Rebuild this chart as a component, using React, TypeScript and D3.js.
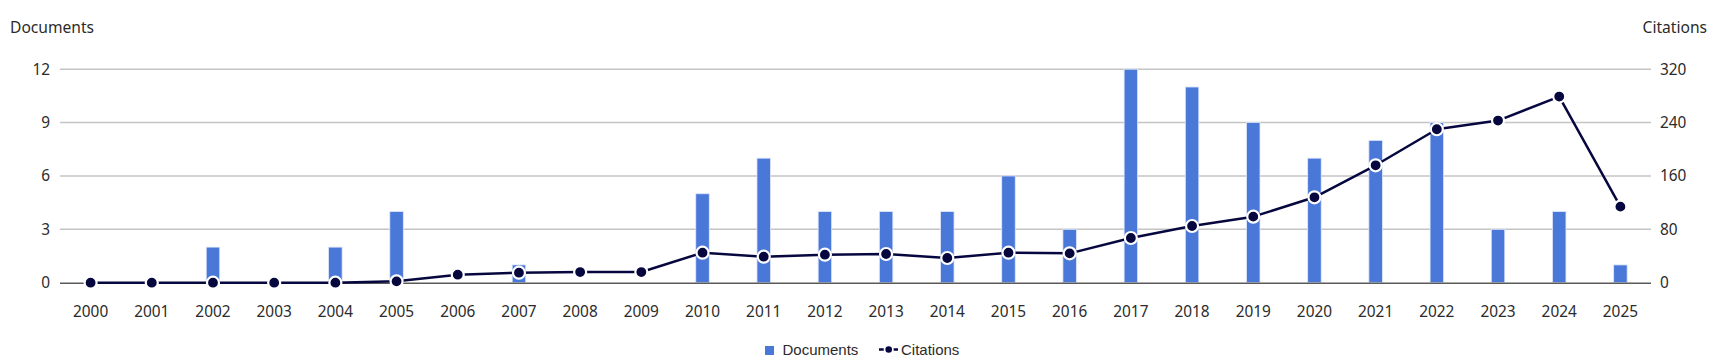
import React from "react";
import * as d3 from "d3";

const years = [
  "2000", "2001", "2002", "2003", "2004", "2005", "2006", "2007", "2008",
  "2009", "2010", "2011", "2012", "2013", "2014", "2015", "2016", "2017",
  "2018", "2019", "2020", "2021", "2022", "2023", "2024", "2025",
];
const documents = [0, 0, 2, 0, 2, 4, 0, 1, 0, 0, 5, 7, 4, 4, 4, 6, 3, 12, 11, 9, 7, 8, 9, 3, 4, 1];
const citations = [0, 0, 0, 0, 0, 2, 12, 15, 16, 16, 45, 39, 42, 43, 37, 45, 44, 67, 85, 99, 128, 176, 230, 243, 279, 114];
const docTicks = [0, 3, 6, 9, 12];
const citeTicks = [0, 80, 160, 240, 320];

const W = 1716;
const H = 360;
const BAR = "#4a78d9";
const LINE = "#07073f";
const TEXT = "#2b2b2b";
const FONT = "'Noto Sans', sans-serif";

export default function App() {
  const x = d3.scaleBand<string>().domain(years).range([60, 1651]).padding(0);
  const yDoc = d3.scaleLinear().domain([0, 12]).range([282.7, 69.2]);
  const yCite = d3.scaleLinear().domain([0, 320]).range([282.7, 69.2]);
  const cx = (yr: string) => (x(yr) ?? 0) + x.bandwidth() / 2;
  const barW = 13.5;

  const line = d3
    .line<number>()
    .x((_, i) => cx(years[i]))
    .y((d) => yCite(d));

  return (
    <svg
      width={W}
      height={H}
      style={{ position: "absolute", left: 0, top: 0, background: "#fff" }}
      fontFamily={FONT}
    >
      {/* axis titles */}
      <text x={10} y={33} fontSize={15.6} fill={TEXT}>Documents</text>
      <text x={1707} y={33} fontSize={15.6} fill={TEXT} textAnchor="end">Citations</text>

      {/* grid + tick labels */}
      {docTicks.map((t) => (
        <g key={"g" + t}>
          {t !== 0 && (
            <line x1={60} x2={1651} y1={yDoc(t)} y2={yDoc(t)} stroke="#c4c4c4" strokeWidth={1.5} />
          )}
          <text x={50} y={yDoc(t)} dy="0.36em" fontSize={15.4} fill={TEXT} textAnchor="end">{t}</text>
        </g>
      ))}
      {citeTicks.map((t) => (
        <text key={"c" + t} x={1660} y={yCite(t)} dy="0.36em" fontSize={15.4} fill={TEXT}>{t}</text>
      ))}

      {/* bars */}
      {documents.map((d, i) =>
        d > 0 ? (
          <rect
            key={"b" + i}
            x={cx(years[i]) - barW / 2}
            y={yDoc(d)}
            width={barW}
            height={yDoc(0) - yDoc(d)}
            fill={BAR}
            stroke="#dfe7fb"
            strokeWidth={0.8}
          />
        ) : null
      )}

      {/* baseline */}
      <line x1={60} x2={1651} y1={yDoc(0) + 0.5} y2={yDoc(0) + 0.5} stroke="#5a5a5a" strokeWidth={1.5} />

      {/* year labels */}
      {years.map((yr) => (
        <text key={"x" + yr} x={cx(yr)} y={316.7} fontSize={15.4} fill={TEXT} textAnchor="middle">{yr}</text>
      ))}

      {/* citations line */}
      <path d={line(citations) ?? ""} fill="none" stroke={LINE} strokeWidth={2.5} strokeLinejoin="round" />
      {citations.map((c, i) => (
        <circle key={"p" + i} cx={cx(years[i])} cy={yCite(c)} r={6} fill={LINE} stroke="#fff" strokeWidth={2.2} />
      ))}

      {/* legend */}
      <g fontFamily="'Liberation Sans', Arial, sans-serif" fontSize={15} fill={TEXT}>
        <rect x={765} y={346} width={9} height={9} fill={BAR} />
        <text x={782.5} y={355.3}>Documents</text>
        <line x1={879} x2={898} y1={349.5} y2={349.5} stroke={LINE} strokeWidth={2.5} />
        <circle cx={888.7} cy={349.5} r={4.2} fill={LINE} stroke="#fff" strokeWidth={1.8} />
        <text x={901} y={355.3}>Citations</text>
      </g>
    </svg>
  );
}
